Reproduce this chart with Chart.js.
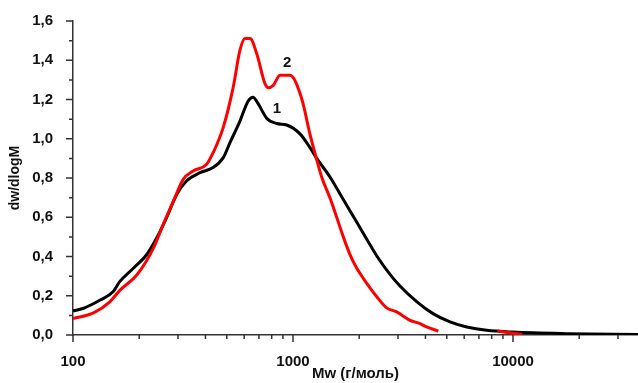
<!DOCTYPE html>
<html>
<head>
<meta charset="utf-8">
<script src="https://cdn.jsdelivr.net/npm/chart.js@4.4.1/dist/chart.umd.min.js"></script>
<style>
  html, body { margin: 0; padding: 0; background: #fff; }
  #wrap { width: 638px; height: 383px; }
</style>
</head>
<body>
<div id="wrap"><canvas id="c" width="638" height="383"></canvas></div>
<script>
// molecular weight (g/mol) and dw/dlogM
const mw1 = [100, 111, 133, 152, 163, 188, 216, 240, 266, 296, 328, 378, 433, 482, 517, 574, 624, 658, 693, 759, 843, 936, 1076, 1195, 1275, 1473, 1693, 1950, 2240, 2447, 2800, 3064, 3648, 4329, 5173, 6160, 7590, 10000, 17540, 37000];
const curve1 = [0.123, 0.135, 0.178, 0.22, 0.272, 0.34, 0.409, 0.494, 0.597, 0.716, 0.785, 0.827, 0.853, 0.904, 0.98, 1.09, 1.19, 1.212, 1.18, 1.105, 1.078, 1.07, 1.025, 0.955, 0.904, 0.805, 0.69, 0.575, 0.46, 0.39, 0.3, 0.25, 0.17, 0.109, 0.067, 0.041, 0.024, 0.015, 0.007, 0.002];

const mw2 = [100, 124, 147, 164, 195, 232, 257, 286, 317, 352, 405, 434, 482, 535, 574, 605, 638, 684, 746, 772, 813, 873, 969, 1095, 1194, 1270, 1355, 1472, 1580, 1693, 1816, 1950, 2087, 2404, 2667, 2958, 3404, 3777, 4053, 4575];
const curve2 = [0.084, 0.113, 0.169, 0.23, 0.306, 0.443, 0.563, 0.682, 0.793, 0.836, 0.87, 0.93, 1.058, 1.263, 1.451, 1.511, 1.511, 1.434, 1.28, 1.26, 1.272, 1.323, 1.323, 1.205, 1.024, 0.91, 0.8, 0.699, 0.6, 0.5, 0.41, 0.34, 0.289, 0.195, 0.138, 0.118, 0.075, 0.058, 0.041, 0.02];
// short red piece near 10000
const mw2tail = [8500, 11000];
const curve2tail = [0.02, 0.002];

const curveLabels = [
  { text: "1", m: 845, v: 1.154 },
  { text: "2", m: 940, v: 1.385 }
];

const xMin = 100, xMax = 37000;
const yMin = 0, yMax = 1.6;

const toPoints = (xs, ys) => xs.map((x, i) => ({ x: x, y: ys[i] }));
const fontBold = { family: "'Liberation Sans', Arial, sans-serif", size: 15, weight: "bold" };

// tick marks drawn by hand: long for labelled ticks, short for minor ones
const tickMarks = {
  id: "tickMarks",
  afterDraw(chart) {
    const ctx = chart.ctx;
    const xs = chart.scales.x, ys = chart.scales.y;
    const area = chart.chartArea;
    ctx.save();
    ctx.strokeStyle = "#333";
    ctx.lineWidth = 1.5;
    ctx.beginPath();
    for (let dec = 100; dec <= xMax; dec *= 10) {
      for (let k = 1; k <= 9; k++) {
        const v = dec * k;
        if (v < xMin || v > xMax) continue;
        const px = xs.getPixelForValue(v);
        const len = k === 1 ? 7 : 4;
        ctx.moveTo(px, area.bottom);
        ctx.lineTo(px, area.bottom + len);
      }
    }
    for (let i = 0; i <= 16; i++) {
      const v = i / 10;
      const py = ys.getPixelForValue(v);
      const len = i % 2 === 0 ? 7 : 4;
      ctx.moveTo(area.left, py);
      ctx.lineTo(area.left - len, py);
    }
    ctx.stroke();

    ctx.fillStyle = "#111";
    ctx.font = "bold 15px 'Liberation Sans', Arial, sans-serif";
    ctx.textAlign = "center";
    ctx.textBaseline = "middle";
    curveLabels.forEach(l => {
      ctx.fillText(l.text, xs.getPixelForValue(l.m), ys.getPixelForValue(l.v));
    });
    ctx.restore();
  }
};

new Chart(document.getElementById("c"), {
  type: "line",
  data: {
    datasets: [
      {
        data: toPoints(mw2, curve2),
        borderColor: "#ff0000",
        borderWidth: 3,
        pointRadius: 0,
        cubicInterpolationMode: "monotone"
      },
      {
        data: toPoints(mw2tail, curve2tail),
        borderColor: "#ff0000",
        borderWidth: 3,
        pointRadius: 0
      },
      {
        data: toPoints(mw1, curve1),
        borderColor: "#000000",
        borderWidth: 3,
        pointRadius: 0,
        cubicInterpolationMode: "monotone"
      }
    ]
  },
  options: {
    responsive: false,
    animation: false,
    layout: { padding: { top: 21, right: 0, left: 0, bottom: 0 } },
    plugins: {
      legend: { display: false },
      tooltip: { enabled: false }
    },
    scales: {
      x: {
        type: "logarithmic",
        min: xMin,
        max: xMax,
        grid: { display: false },
        border: { display: true, color: "#333", width: 1.5 },
        ticks: {
          color: "#111",
          font: fontBold,
          padding: 10,
          autoSkip: false,
          maxRotation: 0,
          callback: (v) => {
            const l = Math.log10(v);
            return Math.abs(l - Math.round(l)) < 1e-9 ? String(v) : "";
          }
        },
        title: {
          display: true,
          text: "Mw (г/моль)",
          color: "#111",
          font: fontBold,
          padding: { top: 2, bottom: 0 }
        },
        afterFit: (s) => { s.height = 48; s.paddingRight = 0; s.paddingLeft = 0; }
      },
      y: {
        min: yMin,
        max: yMax,
        grid: { display: false },
        border: { display: true, color: "#333", width: 1.5 },
        ticks: {
          stepSize: 0.1,
          color: "#111",
          font: fontBold,
          padding: 12,
          autoSkip: false,
          callback: (v) => {
            const n = Math.round(v * 10);
            return n % 2 === 0 ? (n / 10).toFixed(1).replace(".", ",") : "";
          }
        },
        title: {
          display: true,
          text: "dw/dlogM",
          color: "#111",
          font: { family: "'Liberation Sans', Arial, sans-serif", size: 14, weight: "bold" },
          padding: { top: 7, bottom: 0 }
        },
        afterFit: (s) => { s.width = 73; }
      }
    }
  },
  plugins: [tickMarks]
});
</script>
</body>
</html>
